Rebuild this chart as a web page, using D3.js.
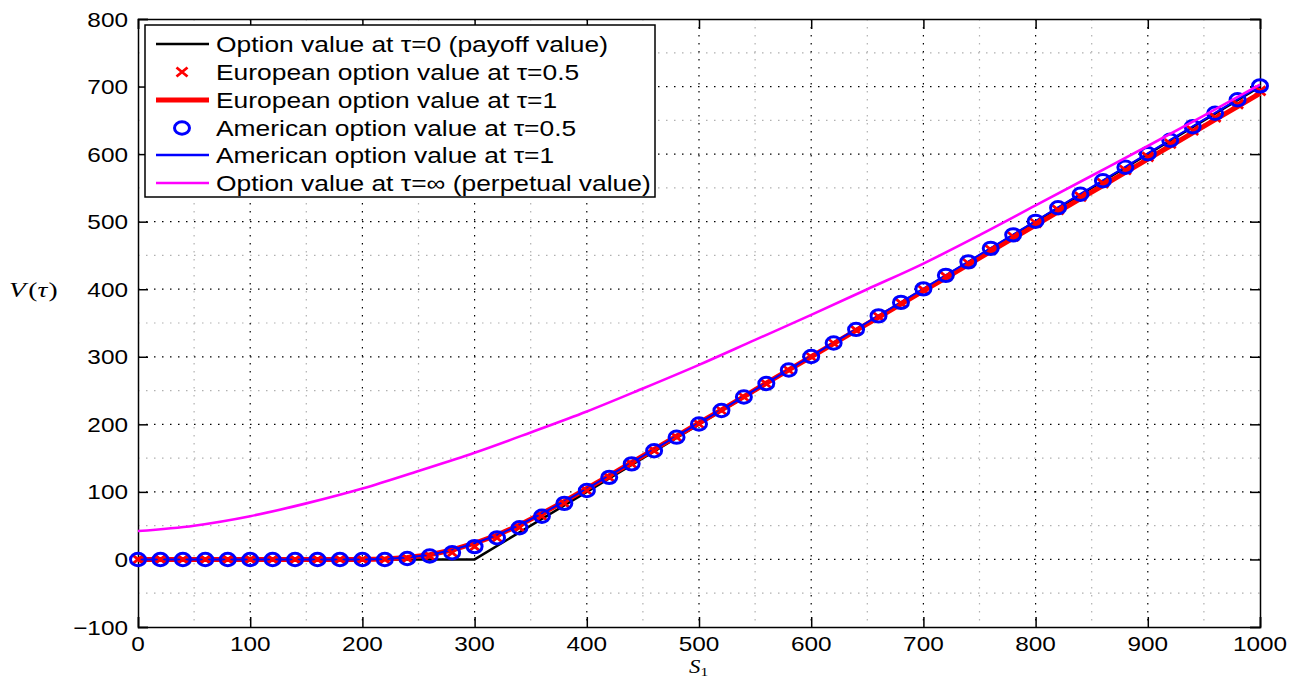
<!DOCTYPE html>
<html>
<head>
<meta charset="utf-8">
<script src="https://cdn.jsdelivr.net/npm/d3@7"></script>
<style>
  body { margin: 0; background: #fff; }
  svg { display: block; }
  .tick-label { font-family: "Liberation Sans", Arial, sans-serif; font-size: 21px; fill: #000; }
  .legend-text { font-family: "Liberation Sans", Arial, sans-serif; font-size: 22px; fill: #000; }
  .math { font-family: "Liberation Serif", "DejaVu Serif", serif; font-style: italic; fill: #000; }
</style>
</head>
<body>
<div id="canvas"></div>
<script>
// stock price grid used by the finite-difference solutions (every 20)
const sGrid = [0, 20, 40, 60, 80, 100, 120, 140, 160, 180, 200, 220, 240, 260, 280, 300,
    320, 340, 360, 380, 400, 420, 440, 460, 480, 500, 520, 540, 560, 580, 600, 620, 640,
    660, 680, 700, 720, 740, 760, 780, 800, 820, 840, 860, 880, 900, 920, 940, 960, 980, 1000]

// payoff at tau = 0
const payoffS = [0, 100, 200, 300, 400, 500, 600, 700, 800, 900, 1000]
const payoffV = [0, 0, 0, 0, 100, 200, 300, 400, 500, 600, 700]

// European option value at tau = 0.5 (x markers)
const euroHalf = [0, 0, 0, 0, 0, 0, 0, 0, 0, 0, 0, 0, 1.5, 5, 10, 19,
    32, 47, 64, 83, 102, 121.5, 141.5, 161, 181, 200.5, 220.5, 240.5, 260, 280, 300, 320, 339.5,
    359.5, 379.5, 399, 419, 438.5, 458.5, 478, 498, 517.5, 537, 557, 576.5, 596, 615.5, 635, 654.5, 674, 693.5]

// European option value at tau = 1 (thick red line)
const euroOne = [0, 0, 0, 0, 0, 0, 0, 0, 0, 0, 0, 0.5, 3, 7, 14, 24,
    36, 51, 68, 86, 105, 124, 143.5, 163, 182.5, 202, 221.5, 241, 261, 280.5, 300, 319.5, 339,
    358.5, 378, 397.5, 417, 436.5, 456, 475.5, 495, 514.5, 534, 553.5, 573, 592.5, 612, 631.5, 651, 670.5, 690]

// American option value at tau = 0.5 (circles)
const amerHalf = [0, 0, 0, 0, 0, 0, 0, 0, 0, 0, 0, 0, 1.5, 5, 10, 19,
    32, 47, 64, 83, 102, 121.5, 141.5, 161, 181, 200.5, 220.5, 240.5, 260.5, 280.5, 300.5, 320.5, 340.5,
    360.5, 380.5, 400.5, 420.5, 440.5, 460.5, 480.5, 500.5, 520.5, 540.5, 560.5, 580.5, 600.5, 620.5, 640.5, 660.5, 680.5, 701]

// American option value at tau = 1 (blue line)
const amerOne = [0, 0, 0, 0, 0, 0, 0, 0, 0, 0, 0, 0.5, 3, 7, 14, 24,
    36, 51, 68, 86, 105, 124, 143.5, 163, 182.5, 202, 221.5, 241.5, 261, 281, 301, 321, 341,
    361, 381, 401, 421, 441, 461, 481, 501, 521, 541, 561, 581, 601, 621, 641, 661, 681, 701]

// perpetual value (tau = infinity)
const perpS = [0, 50, 100, 150, 200, 250, 300, 350, 400, 450, 500, 550, 600, 650, 700, 750, 800, 850, 900, 950, 1000]
const perpV = [42, 50, 64, 83, 105, 131, 158, 188, 219, 253, 288, 325, 362, 400, 438, 480, 524, 568, 612, 657, 703]

const xTicks = [0, 100, 200, 300, 400, 500, 600, 700, 800, 900, 1000]
const yTicks = [-100, 0, 100, 200, 300, 400, 500, 600, 700, 800]
const xMinor = [50, 150, 250, 350, 450, 550, 650, 750, 850, 950]
const yMinor = [-50, 50, 150, 250, 350, 450, 550, 650, 750]

const legendLabels = [
    "Option value at \u03c4=0 (payoff value)",
    "European option value at \u03c4=0.5",
    "European option value at \u03c4=1",
    "American option value at \u03c4=0.5",
    "American option value at \u03c4=1",
    "Option value at \u03c4=\u221e (perpetual value)"
]

const width = 1307
const height = 678
const margin = { top: 19, left: 138, bottom: 51, right: 47 }
const iwidth = width - margin.left - margin.right
const iheight = height - margin.top - margin.bottom
const stretch = 1.16   // the original figure is a bit wider than tall

const svg = d3.select("#canvas").append("svg")
    .attr("width", width)
    .attr("height", height)

const g = svg.append("g")
    .attr("transform", `translate(${margin.left}, ${margin.top})`)

const x = d3.scaleLinear().domain([0, 1000]).range([0, iwidth])
const y = d3.scaleLinear().domain([-100, 800]).range([iheight, 0])

// grid, minor first then major
function gridLines(xs, ys, color) {
    g.append("g").selectAll("line").data(xs.filter(d => d > 0 && d < 1000)).enter()
        .append("line")
        .attr("x1", d => x(d)).attr("x2", d => x(d))
        .attr("y1", 0).attr("y2", iheight)
        .attr("stroke", color).attr("stroke-width", 1.2).attr("stroke-dasharray", "1.5,6.5")
    g.append("g").selectAll("line").data(ys.filter(d => d > -100 && d < 800)).enter()
        .append("line")
        .attr("x1", 0).attr("x2", iwidth)
        .attr("y1", d => y(d)).attr("y2", d => y(d))
        .attr("stroke", color).attr("stroke-width", 1.2).attr("stroke-dasharray", "1.5,6.5")
}
gridLines(xMinor, yMinor, "#b0b0b0")
gridLines(xTicks, yTicks, "#000")

// axes with inward ticks on all four sides
const tickLen = 10
g.append("g").attr("transform", `translate(0, ${iheight})`)
    .call(d3.axisBottom(x).tickValues(xTicks).tickSize(-tickLen).tickFormat(""))
g.append("g")
    .call(d3.axisTop(x).tickValues(xTicks).tickSize(-tickLen).tickFormat(""))
g.append("g")
    .call(d3.axisLeft(y).tickValues(yTicks).tickSize(-tickLen).tickFormat(""))
g.append("g").attr("transform", `translate(${iwidth}, 0)`)
    .call(d3.axisRight(y).tickValues(yTicks).tickSize(-tickLen).tickFormat(""))
g.selectAll(".domain").attr("stroke", "#000").attr("stroke-width", 1.5)
g.selectAll(".tick line").attr("stroke", "#000").attr("stroke-width", 1.5)

// tick labels
g.append("g").selectAll("text").data(xTicks).enter()
    .append("text")
    .attr("class", "tick-label")
    .attr("transform", d => `translate(${x(d)}, ${iheight + 24}) scale(${stretch}, 1)`)
    .attr("text-anchor", "middle")
    .text(d => d)
g.append("g").selectAll("text").data(yTicks).enter()
    .append("text")
    .attr("class", "tick-label")
    .attr("transform", d => `translate(-10, ${y(d) + 7.5}) scale(${stretch}, 1)`)
    .attr("text-anchor", "end")
    .text(d => d < 0 ? "\u2212" + Math.abs(d) : d)

// axis labels
const xl = svg.append("text").attr("class", "math")
    .attr("transform", `translate(689, 673) scale(1.2, 1)`)
    .style("font-size", "19px")
xl.append("tspan").text("S")
xl.append("tspan").attr("dy", 3).style("font-size", "13px").style("font-style", "normal").text("1")

const yl = svg.append("text").attr("class", "math")
    .attr("transform", `translate(9, 297) scale(1.25, 1)`)
    .style("font-size", "22px")
yl.append("tspan").text("V")
yl.append("tspan").attr("dx", 2).style("font-style", "normal").text("(")
yl.append("tspan").text("\u03c4")
yl.append("tspan").attr("dx", 1).style("font-style", "normal").text(")")

// series
const plot = g.append("g")
const line = d3.line().x(d => x(d[0])).y(d => y(d[1]))

plot.append("path")
    .datum(d3.zip(payoffS, payoffV))
    .attr("d", line).attr("fill", "none").attr("stroke", "#000").attr("stroke-width", 2.5)

plot.append("path")
    .datum(d3.zip(sGrid, euroOne))
    .attr("d", line).attr("fill", "none").attr("stroke", "#ff0000").attr("stroke-width", 5)

plot.append("path")
    .datum(d3.zip(sGrid, amerOne))
    .attr("d", line).attr("fill", "none").attr("stroke", "#0000ff").attr("stroke-width", 2)

const cross = (sel, cx, cy) => {
    sel.append("path")
        .attr("d", `M${cx - 5.5},${cy - 4.5}L${cx + 5.5},${cy + 4.5}M${cx - 5.5},${cy + 4.5}L${cx + 5.5},${cy - 4.5}`)
        .attr("stroke", "#ff0000").attr("stroke-width", 2.8).attr("fill", "none")
}
const crosses = plot.append("g")
d3.zip(sGrid, euroHalf).forEach(d => cross(crosses, x(d[0]), y(d[1])))

plot.append("g").selectAll("ellipse").data(d3.zip(sGrid, amerHalf)).enter()
    .append("ellipse")
    .attr("cx", d => x(d[0])).attr("cy", d => y(d[1]))
    .attr("rx", 7.5).attr("ry", 6.2)
    .attr("fill", "none").attr("stroke", "#0000ff").attr("stroke-width", 3)

plot.append("path")
    .datum(d3.zip(perpS, perpV))
    .attr("d", d3.line().curve(d3.curveMonotoneX).x(d => x(d[0])).y(d => y(d[1])))
    .attr("fill", "none").attr("stroke", "#ff00ff").attr("stroke-width", 2.6)

// legend
const leg = svg.append("g")
leg.append("rect")
    .attr("x", 145).attr("y", 25).attr("width", 510).attr("height", 172)
    .attr("fill", "#fff").attr("stroke", "#000").attr("stroke-width", 1.5)

const rowY = [44, 72, 100, 128, 155, 183]
const sample = [
    { type: "line", color: "#000", w: 2.5 },
    { type: "cross" },
    { type: "line", color: "#ff0000", w: 5 },
    { type: "circle" },
    { type: "line", color: "#0000ff", w: 2.5 },
    { type: "line", color: "#ff00ff", w: 2.6 }
]
sample.forEach((s, i) => {
    const cy = rowY[i]
    if (s.type === "line") {
        leg.append("line").attr("x1", 156).attr("x2", 209).attr("y1", cy).attr("y2", cy)
            .attr("stroke", s.color).attr("stroke-width", s.w)
    } else if (s.type === "cross") {
        cross(leg, 182, cy)
    } else {
        leg.append("ellipse").attr("cx", 182).attr("cy", cy).attr("rx", 7.5).attr("ry", 6.2)
            .attr("fill", "none").attr("stroke", "#0000ff").attr("stroke-width", 3)
    }
    leg.append("text").attr("class", "legend-text")
        .attr("transform", `translate(216, ${cy + 8}) scale(1.2, 1)`)
        .text(legendLabels[i])
})
</script>
</body>
</html>
